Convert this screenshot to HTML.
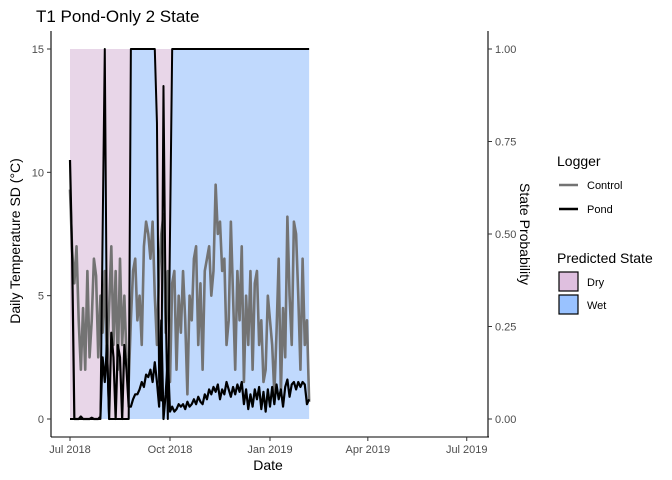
<!DOCTYPE html>
<html><head><meta charset="utf-8"><style>
body{margin:0;background:#fff}
svg{display:block;font-family:"Liberation Sans",Arial,sans-serif}
</style></head><body>
<svg id="chart" width="672" height="480" viewBox="0 0 672 480">
<text x="36" y="22" font-size="17" fill="#000">T1 Pond-Only 2 State</text>
<g id="fills"></g>
<g id="lines"></g>
<g id="axes"></g>
<text x="268" y="470" font-size="14" text-anchor="middle">Date</text>
<text transform="translate(20,241) rotate(-90)" font-size="14" text-anchor="middle">Daily Temperature SD (°C)</text>
<text transform="translate(520,234) rotate(90)" font-size="14" text-anchor="middle">State Probability</text>
<g>
<text x="557" y="166" font-size="14">Logger</text>
<line x1="559" y1="185" x2="578" y2="185" stroke="#737373" stroke-width="2.5"/>
<text x="587" y="189" font-size="11">Control</text>
<line x1="559" y1="209" x2="578" y2="209" stroke="#000" stroke-width="2.5"/>
<text x="587" y="213" font-size="11">Pond</text>
<text x="557" y="263" font-size="14">Predicted State</text>
<rect x="559" y="272" width="19" height="19" fill="#dfbfdf" stroke="#000" stroke-width="1.2"/>
<text x="587" y="286" font-size="11">Dry</text>
<rect x="559" y="295" width="19" height="19" fill="#99c2ff" stroke="#000" stroke-width="1.2"/>
<text x="587" y="309" font-size="11">Wet</text>
</g>
</svg>
<script>
const days = []; for (let d = 0; d <= 220; d += 2) days.push(d);
const control = [9.3,6.8,5.5,7,4,2,4.5,2,6,2.5,4,6.5,5.8,2.5,5,3.5,6,2,4.5,7,3,6,2,6.5,3,5,2.5,1.5,
4,6,6.5,4,5,3,7,8,7.5,6.5,8,5,3,6,7.5,8.3,3.5,6,1.5,5.5,6,2,5,3.5,6,4,1,5,4,6.5,7,3,5.5,2,6,6.5,7,5,6,9.5,7.5,8,6,6.5,3,4,8,5,2,6,4,7,1.5,5,3,6,2,5.5,6,3,4,1.5,2,5,4,3,1,3.5,6.5,1,4.5,2.5,8.2,5,3,8,7.5,5,2,6.5,3,4,0.7];
const pond = [10.5,6.5,0,0,0,0.1,0,0,0,0,0.05,0,0,0,0.1,2.5,1.5,3,0,3.5,2.5,0,3,2.5,0,3,2,0.5,0.5,0.8,1,1,1.2,1.5,1.3,1.8,1.7,2,1.5,2.3,1.5,0.5,4,0,1,2.5,0.3,0.5,0.3,0.4,0.6,0.5,0.6,0.4,0.7,0.5,0.6,0.8,0.6,0.9,0.7,0.6,1,0.8,1.2,1,1.3,1.1,1.4,0.8,1.2,1,1.5,1.2,0.9,1.3,1,1.4,1.1,1.5,0.6,1.2,0.4,1.0,0.5,1.2,0.8,1.3,0.4,1.1,0.3,1.2,0.5,1.3,0.6,1.4,0.8,1.2,0.5,1.3,1.6,0.9,1.4,1.5,1.2,1.5,1.3,1.5,1.4,0.6,0.8];
const wetProb = [0,0,0,0,0,0,0,0,0,0,0,0,0,0,0,0.5,1,0.2,0,0,0,0,0,0,0,0,0,0,1,1,1,1,1,1,1,1,1,1,1,1,0.8,0.1,0.05,0.9,0.3,0,0.5,1,1,1,1,1,1,1,1,1,1,1,1,1,1,1,1,1,1,1,1,1,1,1,1,1,1,1,1,1,1,1,1,1,1,1,1,1,1,1,1,1,1,1,1,1,1,1,1,1,1,1,1,1,1,1,1,1,1,1,1,1,1,1,1];
const yTicks = [0,5,10,15];
const y2Ticks = ["0.00","0.25","0.50","0.75","1.00"];
const xTickDays = [0,92,184,274,365];
const xTickLabels = ["Jul 2018","Oct 2018","Jan 2019","Apr 2019","Jul 2019"];
const NS = "http://www.w3.org/2000/svg";
const X = d => 70 + d * (100/92);
const Y = v => 419 - v * (370/15);
const Y2 = p => 419 - p * 370;
function mk(tag, attrs, parent){const e=document.createElementNS(NS,tag);for(const k in attrs)e.setAttribute(k,attrs[k]);parent.appendChild(e);return e;}
const n = Math.min(days.length, wetProb.length);
// fills
const fills = document.getElementById('fills');
let wet = `M${X(days[0])},${Y2(0)}`, dry = '';
for (let i=0;i<n;i++) wet += `L${X(days[i])},${Y2(wetProb[i])}`;
wet += `L${X(days[n-1])},${Y2(0)}Z`;
dry = `M${X(days[0])},${Y2(1)}`;
for (let i=0;i<n;i++) dry += `L${X(days[i])},${Y2(wetProb[i])}`;
dry += `L${X(days[n-1])},${Y2(1)}Z`;
const dp = mk('path',{d:dry,fill:'#e8d6e8'},fills);


const wp = mk('path',{d:wet,fill:'#c0d9fd'},fills);


// lines
const lines = document.getElementById('lines');
function line(arr, yf, color, w, name){
  let d=''; for(let i=0;i<Math.min(arr.length,days.length);i++) d += (i?'L':'M')+X(days[i])+','+yf(arr[i]);
  const p = mk('path',{d:d,fill:'none',stroke:color,'stroke-width':w,'stroke-linejoin':'round'},lines);
  
  
}
line(control, Y, '#737373', 2.6, 'control-line');
line(pond, Y, '#000', 2.2, 'pond-line');
line(wetProb, Y2, '#000', 2, 'state-probability-line');
// axes
const ax = document.getElementById('axes');
mk('line',{x1:51,y1:31,x2:51,y2:437,stroke:'#000','stroke-width':1.1},ax);
mk('line',{x1:51,y1:437,x2:489,y2:437,stroke:'#000','stroke-width':1.1},ax);
mk('line',{x1:488,y1:31,x2:488,y2:437,stroke:'#000','stroke-width':1.1},ax);
yTicks.forEach(v=>{
  mk('line',{x1:47,y1:Y(v),x2:51,y2:Y(v),stroke:'#333'},ax);
  const t = mk('text',{x:44,y:Y(v)+4,'font-size':11,'text-anchor':'end',fill:'#4d4d4d'},ax); t.textContent=v;
  
  
});
y2Ticks.forEach(s=>{
  const v = parseFloat(s);
  mk('line',{x1:488,y1:Y2(v),x2:492,y2:Y2(v),stroke:'#333'},ax);
  const t = mk('text',{x:495,y:Y2(v)+4,'font-size':11,fill:'#4d4d4d'},ax); t.textContent=s;
  
  
});
xTickDays.forEach((d,i)=>{
  mk('line',{x1:X(d),y1:437,x2:X(d),y2:441,stroke:'#333'},ax);
  const t = mk('text',{x:X(d),y:453,'font-size':11,'text-anchor':'middle',fill:'#4d4d4d'},ax); t.textContent=xTickLabels[i];
  
  
});
</script>
</body></html>
